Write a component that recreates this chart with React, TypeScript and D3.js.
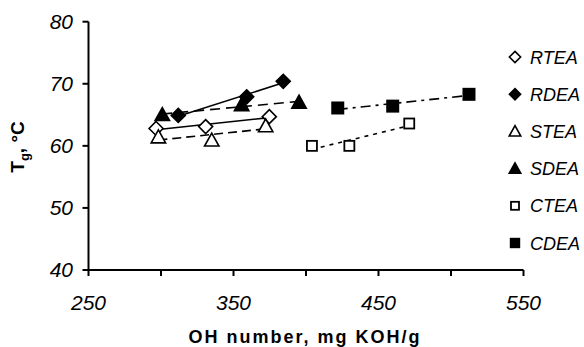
import React from "react";
import * as d3 from "d3";

const seriesNames = ["RTEA", "RDEA", "STEA", "SDEA", "CTEA", "CDEA"];
const rteaX = [296.6, 330.8, 374.7];
const rteaY = [62.8, 63.1, 64.7];
const rdeaX = [311.9, 359.1, 384.3];
const rdeaY = [64.9, 67.9, 70.4];
const steaX = [298.2, 335.0, 372.2];
const steaY = [61.4, 60.9, 63.2];
const sdeaX = [300.9, 355.6, 395.2];
const sdeaY = [65.0, 66.6, 67.0];
const cteaX = [404.1, 429.9, 471.2];
const cteaY = [60.0, 60.0, 63.6];
const cdeaX = [421.9, 459.8, 512.4];
const cdeaY = [66.1, 66.4, 68.3];
const xTicks = [250, 300, 350, 400, 450, 500, 550];
const xLabels = [250, 350, 450, 550];
const yTicks = [40, 50, 60, 70, 80];

const W = 584, H = 347;
const x = d3.scaleLinear().domain([250, 550]).range([88.5, 523.5]);
const y = d3.scaleLinear().domain([40, 80]).range([270, 21.7]);

type Sym = "diamondOpen" | "diamondFill" | "triOpen" | "triFill" | "sqOpen" | "sqFill";
const syms: Sym[] = ["diamondOpen", "diamondFill", "triOpen", "triFill", "sqOpen", "sqFill"];
const dashes = ["none", "none", "9,5", "10,6", "4,5", "10,5,3,5"];
const xs = [rteaX, rdeaX, steaX, sdeaX, cteaX, cdeaX];
const ys = [rteaY, rdeaY, steaY, sdeaY, cteaY, cdeaY];

function Marker({ s, cx, cy, k = 1 }: { s: Sym; cx: number; cy: number; k?: number }) {
  if (s === "diamondOpen" || s === "diamondFill") {
    const r = 7 * k;
    const fill = s === "diamondFill" ? "#000" : "#fff";
    return <path d={`M${cx},${cy - r}L${cx + r},${cy}L${cx},${cy + r}L${cx - r},${cy}Z`} fill={fill} stroke="#000" strokeWidth={1.6} />;
  }
  if (s === "triOpen" || s === "triFill") {
    const r = 7.2 * k;
    const fill = s === "triFill" ? "#000" : "#fff";
    return <path d={`M${cx},${cy - r}L${cx + r},${cy + r * 0.8}L${cx - r},${cy + r * 0.8}Z`} fill={fill} stroke="#000" strokeWidth={1.6} />;
  }
  if (s === "sqOpen") {
    const r = 5 * k;
    return <rect x={cx - r} y={cy - r} width={2 * r} height={2 * r} fill="#fff" stroke="#000" strokeWidth={1.8} />;
  }
  const r = 6.5 * k;
  return <rect x={cx - r} y={cy - r} width={2 * r} height={2 * r} fill="#000" />;
}

function trend(xv: number[], yv: number[]) {
  const mx = d3.mean(xv)!, my = d3.mean(yv)!;
  let sxy = 0, sxx = 0;
  xv.forEach((v, i) => { sxy += (v - mx) * (yv[i] - my); sxx += (v - mx) * (v - mx); });
  const b = sxy / sxx;
  const a = my - b * mx;
  const x0 = d3.min(xv)!, x1 = d3.max(xv)!;
  return [[x0, a + b * x0], [x1, a + b * x1]] as [number, number][];
}

export default function App() {
  const font = "Arial, 'Liberation Sans', sans-serif";
  const line = d3.line<[number, number]>().x(d => x(d[0])).y(d => y(d[1]));
  return (
    <svg width={W} height={H} style={{ display: "block", position: "absolute", left: 0, top: 0, background: "#fff" }} fontFamily={font}>
      {/* axes */}
      <line x1={x(250)} x2={x(550)} y1={y(40)} y2={y(40)} stroke="#000" strokeWidth={2} />
      <line x1={x(250)} x2={x(250)} y1={y(40)} y2={y(80)} stroke="#000" strokeWidth={2} />
      {xTicks.map(t => (
        <line key={"xt" + t} x1={x(t)} x2={x(t)} y1={y(40)} y2={y(40) + 6} stroke="#000" strokeWidth={2} />
      ))}
      {yTicks.map(t => (
        <line key={"yt" + t} x1={x(250) - 6} x2={x(250)} y1={y(t)} y2={y(t)} stroke="#000" strokeWidth={2} />
      ))}
      {xLabels.map(t => (
        <text key={"xl" + t} x={x(t)} y={310} textAnchor="middle" fontSize={21} fontStyle="italic">{t}</text>
      ))}
      {yTicks.map(t => (
        <text key={"yl" + t} x={73} y={y(t) + 7} textAnchor="end" fontSize={21} fontStyle="italic">{t}</text>
      ))}
      <text x={305} y={343} textAnchor="middle" fontSize={18} fontWeight="bold" letterSpacing={2}>OH number, mg KOH/g</text>
      <text transform="translate(24,147) rotate(-90)" textAnchor="middle" fontSize={19} fontWeight="bold">
        T<tspan fontSize={13} dy={5}>g</tspan><tspan dy={-5}>, °C</tspan>
      </text>
      {/* trendlines */}
      {xs.map((xv, i) => (
        <path key={"tl" + i} d={line(trend(xv, ys[i]))!} fill="none" stroke="#000" strokeWidth={1.6} strokeDasharray={dashes[i]} />
      ))}
      {/* markers */}
      {xs.map((xv, i) => xv.map((v, j) => (
        <Marker key={`m${i}-${j}`} s={syms[i]} cx={x(v)} cy={y(ys[i][j])} />
      )))}
      {/* legend */}
      {seriesNames.map((n, i) => (
        <g key={"lg" + n}>
          <Marker s={syms[i]} cx={515} cy={57 + i * 37.2} k={0.8} />
          <text x={530} y={57 + i * 37.2 + 6.5} fontSize={18} fontStyle="italic">{n}</text>
        </g>
      ))}
    </svg>
  );
}
